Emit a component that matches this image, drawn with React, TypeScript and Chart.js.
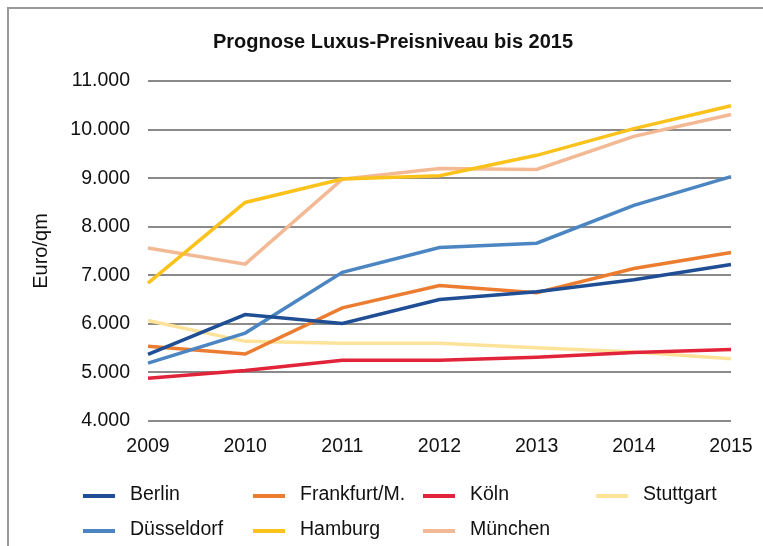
import React, { useEffect, useRef } from "react";
import { Chart, registerables } from "chart.js";

Chart.register(...registerables);

const years = ["2009", "2010", "2011", "2012", "2013", "2014", "2015"];
const berlin = [5370, 6190, 6010, 6500, 6660, 6910, 7220];
const duesseldorf = [5190, 5810, 7060, 7570, 7660, 8440, 9030];
const frankfurt = [5540, 5380, 6330, 6790, 6640, 7140, 7470];
const hamburg = [6840, 8500, 8980, 9050, 9470, 10020, 10490];
const koeln = [4880, 5040, 5250, 5250, 5310, 5410, 5470];
const muenchen = [7560, 7230, 8980, 9200, 9180, 9860, 10310];
const stuttgart = [6070, 5640, 5600, 5600, 5510, 5420, 5280];

const title = "Prognose Luxus-Preisniveau bis 2015";
const yTitle = "Euro/qm";

const FONT = "'Liberation Sans', Arial, Helvetica, sans-serif";

const legendPlugin = {
  id: "customDecor",
  afterDraw(chart: any) {
    const ctx = chart.ctx;
    ctx.save();
    // title
    ctx.fillStyle = "#111";
    ctx.font = `bold 20px ${FONT}`;
    ctx.textAlign = "center";
    ctx.textBaseline = "middle";
    ctx.fillText(title, 393, 42);
    // y axis title
    ctx.save();
    ctx.translate(41, 251);
    ctx.rotate(-Math.PI / 2);
    ctx.font = `20px ${FONT}`;
    ctx.fillText(yTitle, 0, 0);
    ctx.restore();
    // legend
    const colX = [83, 253, 423, 596];
    const rowY = [496, 531];
    ctx.font = `19.5px ${FONT}`;
    ctx.textAlign = "left";
    chart.data.datasets.forEach((ds: any, i: number) => {
      const x = colX[Math.floor(i / 2)];
      const y = rowY[i % 2];
      ctx.strokeStyle = ds.borderColor;
      ctx.lineWidth = 4;
      ctx.beginPath();
      ctx.moveTo(x, y);
      ctx.lineTo(x + 32, y);
      ctx.stroke();
      ctx.fillStyle = "#111";
      ctx.fillText(ds.label, x + 47, y - 1);
    });
    ctx.restore();
  },
};

export default function App() {
  const ref = useRef<HTMLCanvasElement>(null);
  useEffect(() => {
    if (!ref.current) return;
    const mk = (label: string, data: number[], color: string) => ({
      label,
      data,
      borderColor: color,
      backgroundColor: color,
      borderWidth: 3.5,
      pointRadius: 0,
      tension: 0,
      fill: false,
    });
    const chart = new Chart(ref.current, {
      type: "line",
      data: {
        labels: years,
        datasets: [
          mk("Berlin", berlin, "#1f4e95"),
          mk("Düsseldorf", duesseldorf, "#4b86c3"),
          mk("Frankfurt/M.", frankfurt, "#ec7c30"),
          mk("Hamburg", hamburg, "#fbc21c"),
          mk("Köln", koeln, "#e2243a"),
          mk("München", muenchen, "#f3b994"),
          mk("Stuttgart", stuttgart, "#fde39a"),
        ],
      },
      options: {
        animation: false,
        responsive: false,
        devicePixelRatio: 1,
        layout: { padding: { left: 0, top: 81, right: 32, bottom: 85 } },
        plugins: {
          legend: { display: false },
          title: { display: false },
          tooltip: { enabled: false },
        },
        scales: {
          x: {
            offset: false,
            grid: { display: false, drawTicks: false },
            border: { display: false },
            ticks: {
              color: "#111",
              font: { family: FONT, size: 19.5 },
              padding: 14,
              maxRotation: 0,
            },
            afterFit: (s: any) => {
              s.height = 40;
              s.paddingLeft = 0;
              s.paddingRight = 0;
            },
          },
          y: {
            min: 4000,
            max: 11000,
            grid: { color: "#8a8a8a", lineWidth: 2, drawTicks: false },
            border: { display: false },
            ticks: {
              stepSize: 1000,
              color: "#111",
              padding: 18,
              font: { family: FONT, size: 19.5 },
              callback: (v: any) => Number(v).toLocaleString("de-DE"),
            },
            afterFit: (s: any) => {
              s.width = 148;
              s.paddingTop = 0;
              s.paddingBottom = 0;
            },
          },
        },
      },
      plugins: [legendPlugin],
    });
    return () => chart.destroy();
  }, []);
  return (
    <div
      style={{
        position: "fixed",
        left: 0,
        top: 0,
        width: 763,
        height: 546,
        background: "#fff",
        overflow: "hidden",
      }}
    >
      <div
        style={{
          position: "absolute",
          left: 7,
          top: 7,
          width: 800,
          height: 600,
          borderTop: "2px solid #999",
          borderLeft: "2px solid #999",
        }}
      />
      <canvas
        ref={ref}
        width={763}
        height={546}
        style={{ position: "absolute", left: 0, top: 0, width: 763, height: 546 }}
      />
    </div>
  );
}
